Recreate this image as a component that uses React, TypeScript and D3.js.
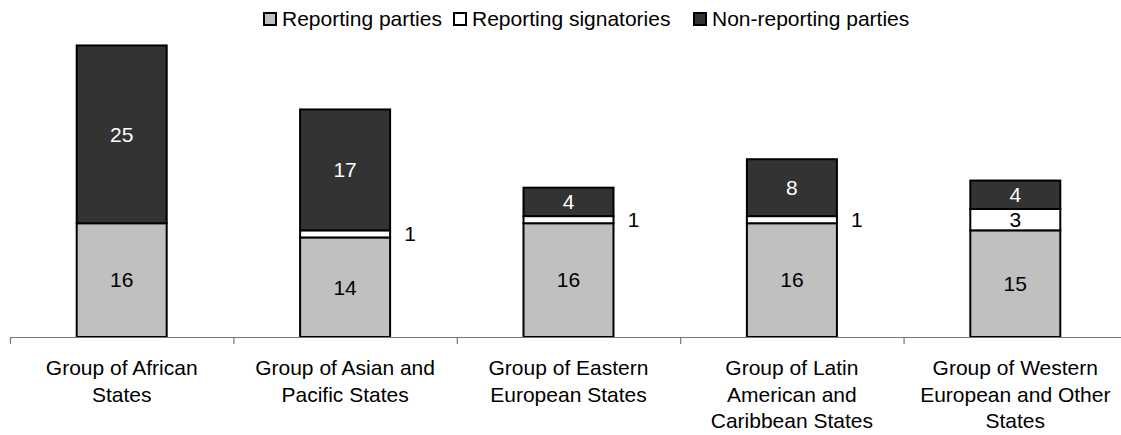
import React from "react";
import * as d3 from "d3";

const categories = [
  ["Group of African", "States"],
  ["Group of Asian and", "Pacific States"],
  ["Group of Eastern", "European States"],
  ["Group of Latin", "American and", "Caribbean States"],
  ["Group of Western", "European and Other", "States"],
];
const reportingParties = [16, 14, 16, 16, 15];
const reportingSignatories = [0, 1, 1, 1, 3];
const nonReportingParties = [25, 17, 4, 8, 4];

const seriesNames = ["Reporting parties", "Reporting signatories", "Non-reporting parties"];
const seriesColors = ["#C0C0C0", "#FFFFFF", "#333333"];
const labelColors = ["#000000", "#000000", "#FFFFFF"];

const W = 1121;
const H = 435;
const FONT = "'Liberation Sans', Arial, sans-serif";

export default function App() {
  const keys = categories.map((c) => c.join(" "));
  const x = d3.scaleBand<string>().domain(keys).range([10, 1127]).paddingInner(0).paddingOuter(0);
  const y = d3.scaleLinear().domain([0, 45]).range([337, 17]);
  const barW = 90;

  const rows = keys.map((k, i) => ({
    key: k,
    s0: reportingParties[i],
    s1: reportingSignatories[i],
    s2: nonReportingParties[i],
  }));
  const stack = d3.stack<any>().keys(["s0", "s1", "s2"])(rows);

  // legend layout
  const legendX = [263, 453, 693];

  return (
    <svg
      width={W}
      height={H}
      style={{ position: "absolute", left: 0, top: 0, background: "#fff" }}
      fontFamily={FONT}
    >
      {/* bars */}
      {stack.map((layer, si) =>
        layer.map((d, i) => {
          const v = d[1] - d[0];
          if (v <= 0) return null;
          const cx = (x(keys[i]) as number) + x.bandwidth() / 2;
          return (
            <rect
              key={`${si}-${i}`}
              x={cx - barW / 2}
              y={y(d[1])}
              width={barW}
              height={y(d[0]) - y(d[1])}
              fill={seriesColors[si]}
              stroke="#000"
              strokeWidth={2}
            />
          );
        })
      )}

      {/* value labels */}
      {stack.map((layer, si) =>
        layer.map((d, i) => {
          const v = d[1] - d[0];
          if (v <= 0) return null;
          const cx = (x(keys[i]) as number) + x.bandwidth() / 2;
          const cy = (y(d[0]) + y(d[1])) / 2;
          const outside = si === 1 && v < 2;
          return (
            <text
              key={`l${si}-${i}`}
              x={outside ? cx + barW / 2 + 20 : cx}
              y={cy}
              dy="0.35em"
              textAnchor="middle"
              fontSize={21}
              fill={outside ? "#000" : labelColors[si]}
            >
              {v}
            </text>
          );
        })
      )}

      {/* axis */}
      <line x1={10} x2={W} y1={337.5} y2={337.5} stroke="#777" strokeWidth={1.2} />
      {keys.map((k, i) => (
        <line
          key={`t${i}`}
          x1={(x(k) as number) + 0.5}
          x2={(x(k) as number) + 0.5}
          y1={337}
          y2={344}
          stroke="#777"
          strokeWidth={1.2}
        />
      ))}

      {/* category labels */}
      {categories.map((lines, i) => {
        const cx = (x(keys[i]) as number) + x.bandwidth() / 2;
        return (
          <text key={`c${i}`} x={cx} y={375} textAnchor="middle" fontSize={21} fill="#000">
            {lines.map((ln, j) => (
              <tspan key={j} x={cx} y={375 + j * 26.5}>
                {ln}
              </tspan>
            ))}
          </text>
        );
      })}

      {/* legend */}
      {seriesNames.map((name, i) => (
        <g key={`lg${i}`}>
          <rect
            x={legendX[i] + 1}
            y={13}
            width={12}
            height={12}
            fill={seriesColors[i]}
            stroke="#000"
            strokeWidth={2}
          />
          <text x={legendX[i] + 19} y={26} fontSize={21} fill="#000">
            {name}
          </text>
        </g>
      ))}
    </svg>
  );
}
